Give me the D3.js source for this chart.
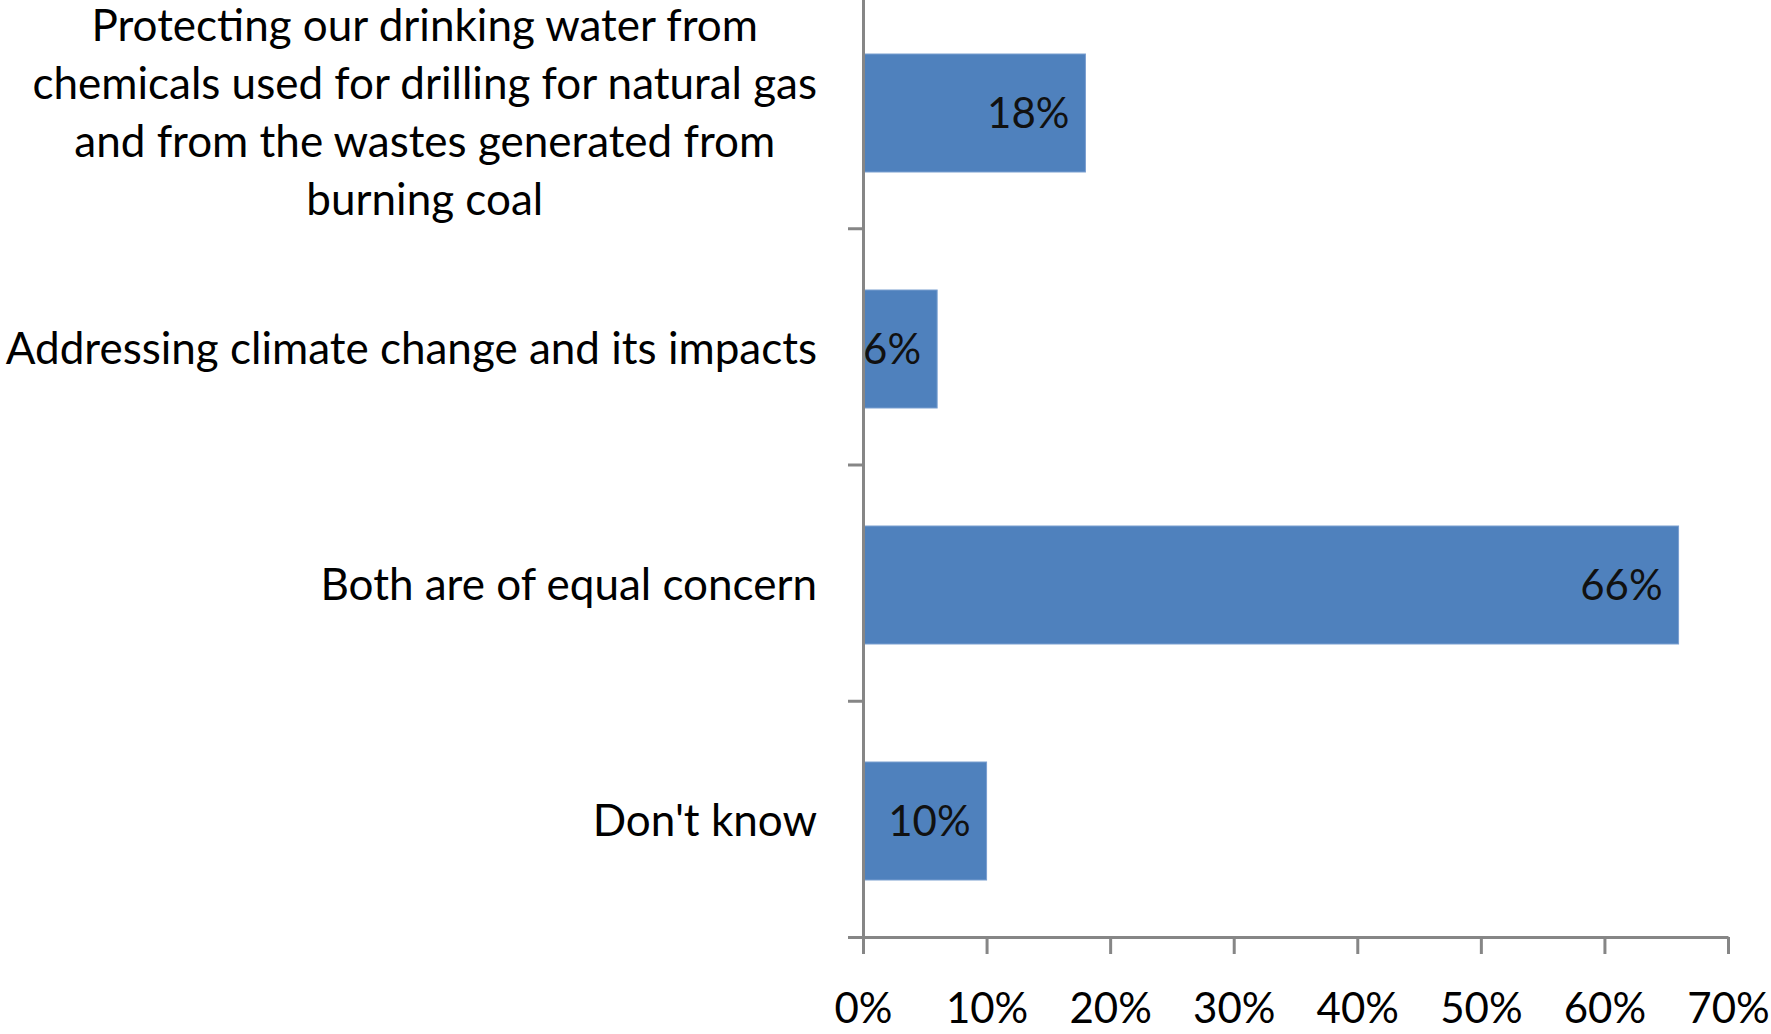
<!DOCTYPE html>
<html>
<head>
<meta charset="utf-8">
<script src="https://cdn.jsdelivr.net/npm/d3@7"></script>
<style>
  body { margin: 0; background: #fff; }
  text { font-family: Lato, "Open Sans", sans-serif; }
</style>
</head>
<body>
<svg id="chart" width="1771" height="1034"></svg>
<script>
const categories = [
    'Protecting our drinking water from\nchemicals used for drilling for natural gas\nand from the wastes generated from\nburning coal',
    'Addressing climate change and its impacts',
    'Both are of equal concern',
    "Don't know"
]
const values = [0.18, 0.06, 0.66, 0.10]
const xTicks = [0, 0.1, 0.2, 0.3, 0.4, 0.5, 0.6, 0.7]

const axisColor = '#868686'
const barColor = '#4f81bd'
const lineHeight = 58

const svg = d3.select('#chart')

const x = d3.scaleLinear().domain([0, 0.7]).range([863, 1728])
const y = d3
    .scaleBand()
    .domain(categories)
    .range([-5, 939])
    .paddingInner(0.5)
    .paddingOuter(0.25)

// bars
svg.selectAll('rect.bar')
    .data(values)
    .enter()
    .append('rect')
    .attr('class', 'bar')
    .attr('x', x(0))
    .attr('y', (d, i) => y(categories[i]))
    .attr('width', d => x(d) - x(0))
    .attr('height', y.bandwidth())
    .attr('fill', barColor)
    .attr('stroke', '#7a9fd0')
    .attr('stroke-width', 1)

// value labels
svg.selectAll('text.val')
    .data(values)
    .enter()
    .append('text')
    .attr('class', 'val')
    .attr('x', d => x(d) - 16)
    .attr('y', (d, i) => y(categories[i]) + y.bandwidth() / 2)
    .attr('dy', '0.35em')
    .attr('text-anchor', 'end')
    .attr('font-size', 42)
    .attr('fill', '#111')
    .text(d => d3.format('.0%')(d))

// x axis
const xAxis = svg
    .append('g')
    .attr('transform', 'translate(0,937)')
    .call(
        d3.axisBottom(x)
            .tickValues(xTicks)
            .tickFormat(d3.format('.0%'))
            .tickSize(17)
            .tickSizeOuter(0)
    )
xAxis.select('.domain').attr('stroke', axisColor).attr('stroke-width', 3)
xAxis.selectAll('.tick line').attr('stroke', axisColor).attr('stroke-width', 3)
xAxis.selectAll('.tick text')
    .attr('y', 86)
    .attr('dy', 0)
    .attr('font-size', 42)
    .attr('fill', '#000')
    .attr('font-family', 'Lato, sans-serif')

// y axis: ticks sit between the categories
const yEdges = d3.scaleLinear().domain([0, categories.length]).range([-8, 937])
const yAxis = svg
    .append('g')
    .attr('transform', 'translate(863,0)')
    .call(
        d3.axisLeft(yEdges)
            .tickValues([1, 2, 3, 4])
            .tickFormat('')
            .tickSize(15)
            .tickSizeOuter(0)
    )
yAxis.select('.domain').attr('stroke', axisColor).attr('stroke-width', 3)
yAxis.selectAll('.tick line').attr('stroke', axisColor).attr('stroke-width', 3)

// category labels
const labelRight = 817
categories.forEach(c => {
    const lines = c.split('\n')
    const cy = y(c) + y.bandwidth() / 2
    const g = svg.append('g')
    const t = g
        .append('text')
        .attr('text-anchor', 'middle')
        .attr('font-size', 44)
        .attr('fill', '#000')
    lines.forEach((l, i) => {
        t.append('tspan')
            .attr('x', 0)
            .attr('y', cy + (i - (lines.length - 1) / 2) * lineHeight)
            .attr('dy', '0.35em')
            .text(l)
    })
    const w = d3.max(t.selectAll('tspan').nodes(), n => n.getComputedTextLength())
    g.attr('transform', 'translate(' + (labelRight - w / 2) + ',0)')
})
</script>
</body>
</html>
